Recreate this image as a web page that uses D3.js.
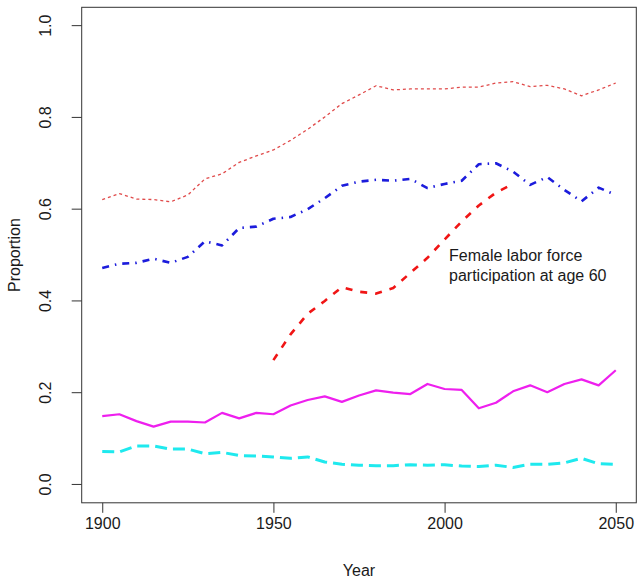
<!DOCTYPE html>
<html>
<head>
<meta charset="utf-8">
<script src="https://cdn.jsdelivr.net/npm/d3@7"></script>
<style>
  html, body { margin: 0; padding: 0; background: #fff; }
  svg { display: block; }
  text { font-family: "Liberation Sans", Arial, Helvetica, sans-serif; fill: #1a1a1a; }
</style>
</head>
<body>
<svg id="chart" width="637" height="579"></svg>
<script>
// Five-year observation points
const years = [1900, 1905, 1910, 1915, 1920, 1925, 1930, 1935, 1940, 1945,
               1950, 1955, 1960, 1965, 1970, 1975, 1980, 1985, 1990, 1995,
               2000, 2005, 2010, 2015, 2020, 2025, 2030, 2035, 2040, 2045, 2050];

// Upper red dotted series
const redDotted = [0.621, 0.634, 0.622, 0.621, 0.616, 0.631, 0.666, 0.677, 0.702, 0.716,
                   0.729, 0.750, 0.774, 0.801, 0.830, 0.849, 0.869, 0.860, 0.862, 0.862,
                   0.862, 0.866, 0.866, 0.875, 0.878, 0.867, 0.870, 0.862, 0.847, 0.860, 0.875];

// Blue dot-dash series
const blueDotDash = [0.472, 0.481, 0.483, 0.492, 0.483, 0.496, 0.530, 0.521, 0.559, 0.562,
                     0.579, 0.583, 0.600, 0.624, 0.651, 0.660, 0.664, 0.662, 0.666, 0.646,
                     0.655, 0.662, 0.698, 0.700, 0.682, 0.653, 0.670, 0.642, 0.617, 0.647, 0.631];

// Female labor force participation at age 60 (1950 to 2020)
const femaleYears = [1950, 1955, 1960, 1965, 1970, 1975, 1980, 1985, 1990, 1995, 2000, 2005, 2010, 2015, 2020];
const femaleLFP = [0.271, 0.327, 0.372, 0.400, 0.430, 0.420, 0.416, 0.428, 0.461, 0.494,
                   0.534, 0.573, 0.608, 0.636, 0.655];

// Magenta solid series
const magentaSolid = [0.149, 0.153, 0.138, 0.126, 0.137, 0.137, 0.135, 0.156, 0.144, 0.156,
                      0.153, 0.172, 0.184, 0.192, 0.180, 0.194, 0.205, 0.200, 0.197, 0.219,
                      0.208, 0.206, 0.166, 0.178, 0.203, 0.216, 0.201, 0.219, 0.229, 0.216, 0.249];

// Cyan dashed series
const cyanDashed = [0.072, 0.071, 0.084, 0.084, 0.077, 0.077, 0.067, 0.070, 0.063, 0.062,
                    0.060, 0.057, 0.060, 0.049, 0.044, 0.042, 0.041, 0.041, 0.043, 0.042,
                    0.043, 0.040, 0.039, 0.042, 0.037, 0.044, 0.044, 0.047, 0.057, 0.045, 0.044];

const xTicks = [1900, 1950, 2000, 2050];
const yTicks = [0.0, 0.2, 0.4, 0.6, 0.8, 1.0];

const svg = d3.select("#chart");

// Plot region (axis ranges padded 4% beyond the data span)
const box = { left: 81.7, right: 636.3, top: 7.3, bottom: 502.8 };
const x = d3.scaleLinear().domain([1894, 2056]).range([box.left, box.right]);
const y = d3.scaleLinear().domain([-0.04, 1.04]).range([box.bottom, box.top]);

// Axes
const xAxis = svg.append("g")
  .attr("transform", `translate(0,${box.bottom})`)
  .call(d3.axisBottom(x).tickValues(xTicks).tickFormat(d3.format("d"))
        .tickSize(10).tickPadding(5).tickSizeOuter(0));
xAxis.select(".domain").remove();
xAxis.selectAll("line").attr("stroke", "#333");
xAxis.selectAll("text").style("font-size", "16px").attr("fill", "#1a1a1a");

const yAxis = svg.append("g")
  .attr("transform", `translate(${box.left},0)`)
  .call(d3.axisLeft(y).tickValues(yTicks).tickFormat(d3.format(".1f"))
        .tickSize(10).tickSizeOuter(0));
yAxis.select(".domain").remove();
yAxis.selectAll("line").attr("stroke", "#333");
yAxis.selectAll("text")
  .style("font-size", "16px")
  .attr("fill", "#1a1a1a")
  .attr("x", null).attr("dy", null)
  .attr("text-anchor", "middle")
  .attr("transform", d => `translate(${-box.left + 51},${y(d)}) rotate(-90)`)
  .attr("y", 0);
yAxis.selectAll(".tick").attr("transform", "translate(0,0)");
yAxis.selectAll(".tick line").attr("transform", d => `translate(0,${y(d)})`);

// Frame
svg.append("rect")
  .attr("x", box.left).attr("y", box.top)
  .attr("width", box.right - box.left).attr("height", box.bottom - box.top)
  .attr("fill", "none").attr("stroke", "#333").attr("stroke-width", 1);

// Axis titles
svg.append("text")
  .attr("x", (box.left + box.right) / 2).attr("y", 576)
  .attr("text-anchor", "middle").style("font-size", "16px")
  .text("Year");
svg.append("text")
  .attr("transform", `translate(20,${(box.top + box.bottom) / 2}) rotate(-90)`)
  .attr("text-anchor", "middle").style("font-size", "16px")
  .text("Proportion");

// Series
const line = d3.line().x(d => x(d[0])).y(d => y(d[1]));
const zip = (xs, ys) => xs.map((v, i) => [v, ys[i]]);

const series = [
  { data: zip(years, cyanDashed),   color: "#1fe9ee", width: 3,   dash: "12,6" },
  { data: zip(years, magentaSolid), color: "#ee1fee", width: 2.2, dash: null },
  { data: zip(femaleYears, femaleLFP), color: "#f01515", width: 2.6, dash: "7,8" },
  { data: zip(years, blueDotDash),  color: "#1c1cdc", width: 2.6, dash: "7,6,1.5,6" },
  { data: zip(years, redDotted),    color: "#e04a4a", width: 1.3, dash: "3,3" }
];

svg.append("g").selectAll("path")
  .data(series)
  .join("path")
  .attr("d", s => line(s.data))
  .attr("fill", "none")
  .attr("stroke", s => s.color)
  .attr("stroke-width", s => s.width)
  .attr("stroke-dasharray", s => s.dash)
  .attr("stroke-linejoin", "round");

// Annotation for the female participation curve
const note = svg.append("text")
  .attr("x", 449).attr("y", 261)
  .style("font-size", "16px");
note.append("tspan").attr("x", 449).attr("dy", 0).text("Female labor force");
note.append("tspan").attr("x", 449).attr("dy", 19.5).text("participation at age 60");
</script>
</body>
</html>
